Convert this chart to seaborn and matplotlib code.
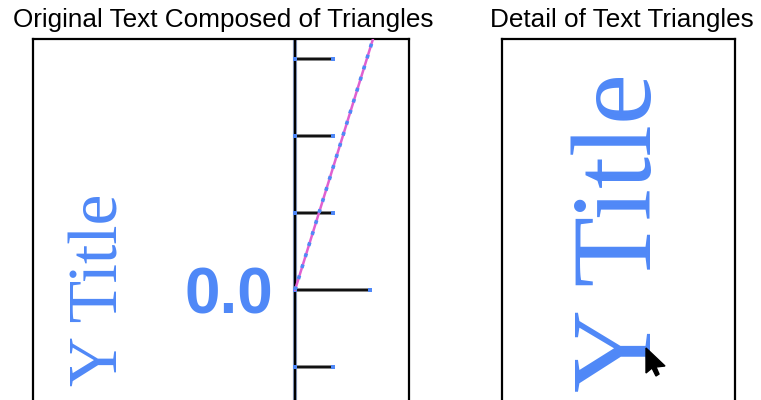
import matplotlib
matplotlib.use("Agg")
import matplotlib.pyplot as plt
import seaborn as sns
import pandas as pd

# ---- data ----
panel_titles = ["Original Text Composed of Triangles", "Detail of Text Triangles"]
axis_title = "Y Title"
tick_label = "0.0"
tick_values = [3, 2, 1, 0, -1]
tick_lengths = [0.49, 0.49, 0.49, 0.97, 0.49]
line_x = [0.0, 1.1]
line_y = [0.0, 3.54]

BLUE = "#4f88f7"
PINK = "#e060d0"

sns.set_theme(style="white")
plt.rcParams["font.family"] = ["Liberation Sans", "DejaVu Sans"]

W, H = 761, 400
fig = plt.figure(figsize=(W / 100, H / 100), dpi=100)

def fx(px):
    return px / W

def fy(py):
    return 1 - py / H

bottom_px = 408
top_px = 39
ax1 = fig.add_axes([fx(33), fy(bottom_px), fx(409) - fx(33), fy(top_px) - fy(bottom_px)])
ax2 = fig.add_axes([fx(502), fy(bottom_px), fx(735) - fx(502), fy(top_px) - fy(bottom_px)])

for ax in (ax1, ax2):
    ax.set_xticks([])
    ax.set_yticks([])
    for s in ax.spines.values():
        s.set_color("black")
        s.set_linewidth(1.6)
    ax.spines["bottom"].set_visible(False)
    ax.set_facecolor("white")

# left panel coordinates: origin at the axis line / zero tick, 77px per unit
ox, oy, u = 295, 290, 77
ax1.set_xlim((33 - ox) / u, (409 - ox) / u)
ax1.set_ylim((oy - bottom_px) / u, (oy - top_px) / u)

# axis line
ax1.axvline(0, color="#8a9cc0", lw=3.0, zorder=2)
ax1.axvline(0, color="black", lw=1.6, zorder=3)
# ticks
ax1.hlines(tick_values, 0, tick_lengths, color="#888888", lw=2.8, zorder=2)
ax1.hlines(tick_values, 0, tick_lengths, color="#111111", lw=1.5, zorder=3)
ax1.scatter([0] * len(tick_values), tick_values, marker="s", s=9, color=BLUE, lw=0, zorder=4)
ax1.scatter(tick_lengths, tick_values, marker="s", s=9, color=BLUE, lw=0, zorder=4)

# diagonal data line
df = pd.DataFrame({"x": line_x, "y": line_y})
sns.lineplot(data=df, x="x", y="y", ax=ax1, color=PINK, lw=1.8, zorder=5)
ax1.plot(line_x, line_y, color=BLUE, lw=2.6, ls=(0, (1, 2.2)), zorder=6)
ax1.set_xlabel("")
ax1.set_ylabel("")

# "0.0" label
ax1.text((229 - ox) / u, (oy - 314) / u, tick_label, ha="center", va="baseline",
         fontsize=46, fontweight="bold", color=BLUE, family=["Liberation Sans", "DejaVu Sans"])
# rotated axis title
ax1.text((101 - ox) / u, (oy - 290) / u, axis_title, rotation=90, ha="center", va="center",
         fontsize=50, color=BLUE, family=["Liberation Serif", "DejaVu Serif"])

# right panel: enlarged title text
ax2.set_xlim(0, 1)
ax2.set_ylim(0, 1)
pw = 735 - 502
ph = bottom_px - top_px
ax2.text((623 - 502) / pw, (bottom_px - 232) / ph, axis_title, rotation=90,
         ha="center", va="center", fontsize=83, color=BLUE,
         family=["Liberation Serif", "DejaVu Serif"])

# mouse cursor
cur_px = [(646, 348), (646, 373), (652, 368), (656, 376), (659, 374), (656, 367), (665, 366)]
ax2.fill([(p[0] - 502) / pw for p in cur_px],
         [(bottom_px - p[1]) / ph for p in cur_px],
         color="black", zorder=6)

# titles
fig.text(fx(223.5), fy(27), panel_titles[0], ha="center", va="baseline", fontsize=18.8, color="black")
fig.text(fx(622), fy(27), panel_titles[1], ha="center", va="baseline", fontsize=18.8, color="black")

fig.savefig("out.png", dpi=100, facecolor="white")
